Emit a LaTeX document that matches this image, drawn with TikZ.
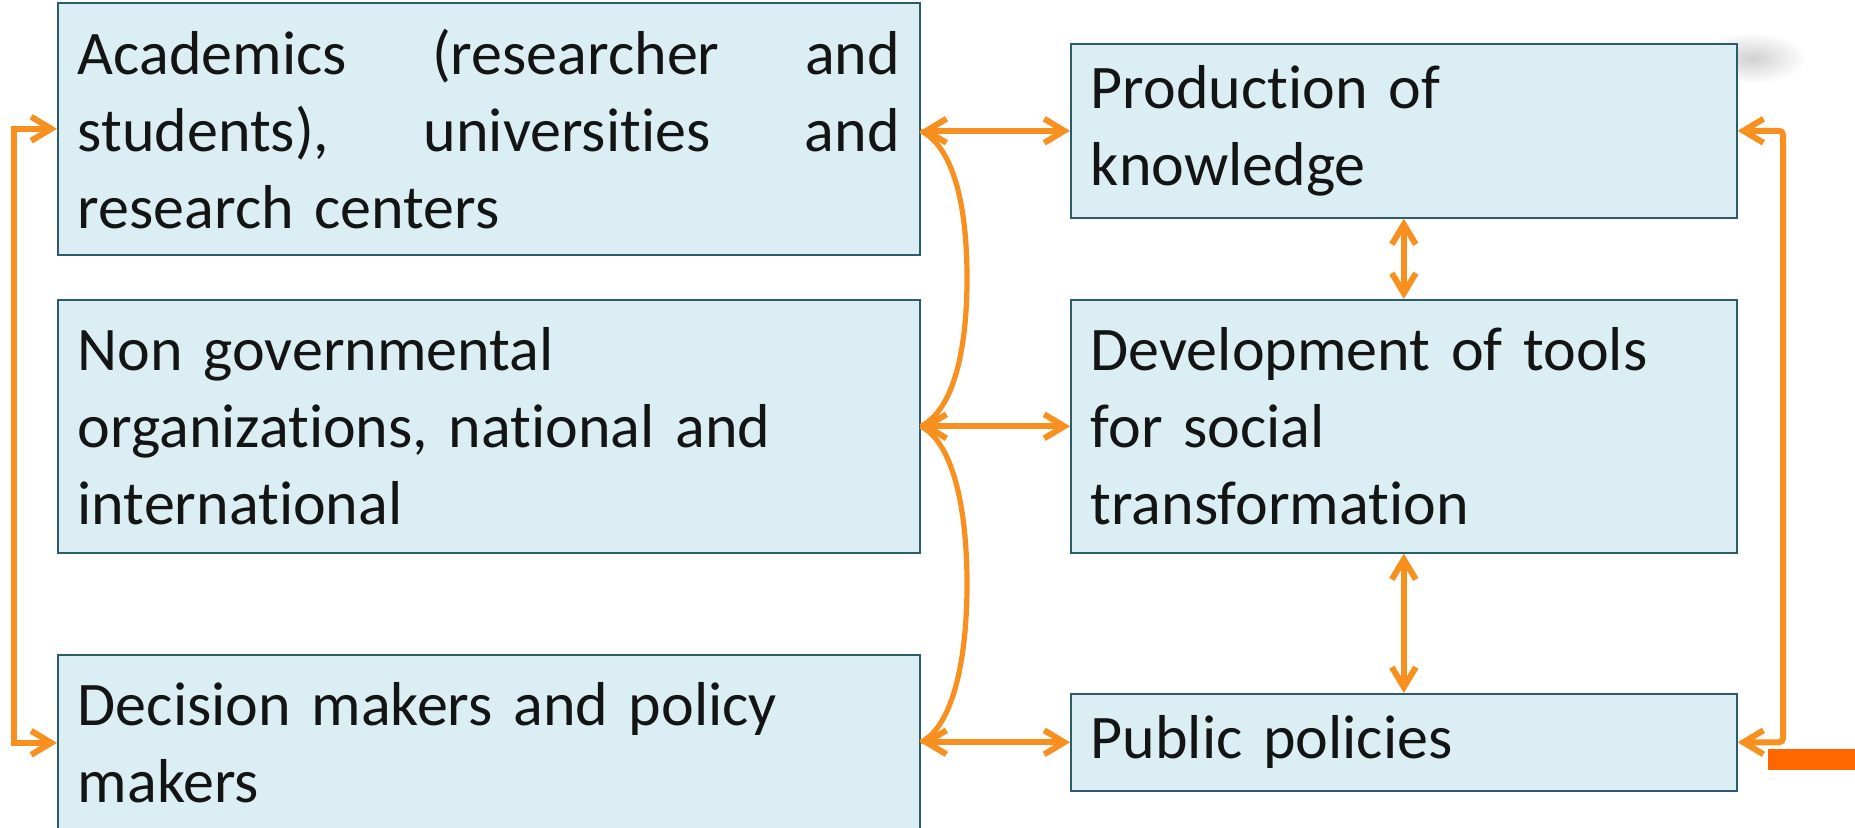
\documentclass[tikz,border=0pt]{standalone}
\usepackage{fontspec}
\setmainfont{Carlito}[Ligatures=NoCommon]
\usetikzlibrary{arrows.meta}
\definecolor{boxfill}{HTML}{DAEEF3}
\definecolor{boxline}{HTML}{2B5C6B}
\definecolor{linkorange}{HTML}{F7901E}
\definecolor{barorange}{HTML}{FF6600}
\definecolor{textgrey}{HTML}{141414}
\begin{document}
\begin{tikzpicture}[x=0.5pt,y=-0.5pt,
	box/.style={draw=boxline, line width=0.8pt, fill=boxfill, anchor=north west, inner xsep=10pt, inner ysep=0pt, align=left, text=textgrey, font=\fontsize{31}{38.5}\selectfont},
	wide/.style={box, text width=411pt},
	narrow/.style={box, text width=313pt},
	link/.style={draw=linkorange, line width=3pt, {Straight Barb[length=10pt,width=12pt]}-{Straight Barb[length=10pt,width=12pt]}},
	bow/.style={draw=linkorange, line width=2.6pt}]
	\useasboundingbox (0,0) rectangle (1855,828);
	\shade [inner color=black!18, outer color=white] (1752,58) ellipse [x radius=55, y radius=26];
	\node [wide, minimum height=126pt] (acad) at (57,2) {Academics \hfill (researcher \hfill and\\ students), \hfill universities \hfill and\\ research centers};
	\node [wide, minimum height=126.5pt] (ngo) at (57,299) {Non governmental\\ organizations, national and\\ international};
	\node [wide, minimum height=88pt] (decis) at (57,654) {Decision makers and policy\\ makers};
	\node [narrow, minimum height=87pt] (prod) at (1070,43) {Production of\\ knowledge};
	\node [narrow, minimum height=126.5pt] (tools) at (1070,299) {Development of tools\\ for social\\ transformation};
	\node [narrow, minimum height=48.5pt] (pub) at (1070,693) {Public policies};
	\coordinate (lx) at (14,0);
	\coordinate (rx) at (1783,0);
	\coordinate (bend1) at (967,278);
	\coordinate (bend2) at (967,584);
	\draw [link] (acad.west) -- (acad.west -| lx) -- (decis.west -| lx) -- (decis.west);
	\draw [link, rounded corners=2pt] (prod.east) -- (prod.east -| rx) -- (pub.east -| rx) -- (pub.east);
	\draw [bow] (prod.west -| acad.east) .. controls +(31,15) and +(0,-78) .. (bend1) .. controls +(0,78) and +(31,-15) .. (ngo.east);
	\draw [bow] (ngo.east) .. controls +(31,15) and +(0,-80) .. (bend2) .. controls +(0,80) and +(31,-15) .. (pub.west -| decis.east);
	\draw [link] (prod.west -| acad.east) -- (prod.west);
	\draw [link] (ngo.east) -- (tools.west);
	\draw [link] (pub.west -| decis.east) -- (pub.west);
	\draw [link] (prod.south) -- (tools.north);
	\draw [link] (tools.south) -- (pub.north);
	\fill [barorange] (1768,749) rectangle (1855,770);
\end{tikzpicture}
\end{document}
